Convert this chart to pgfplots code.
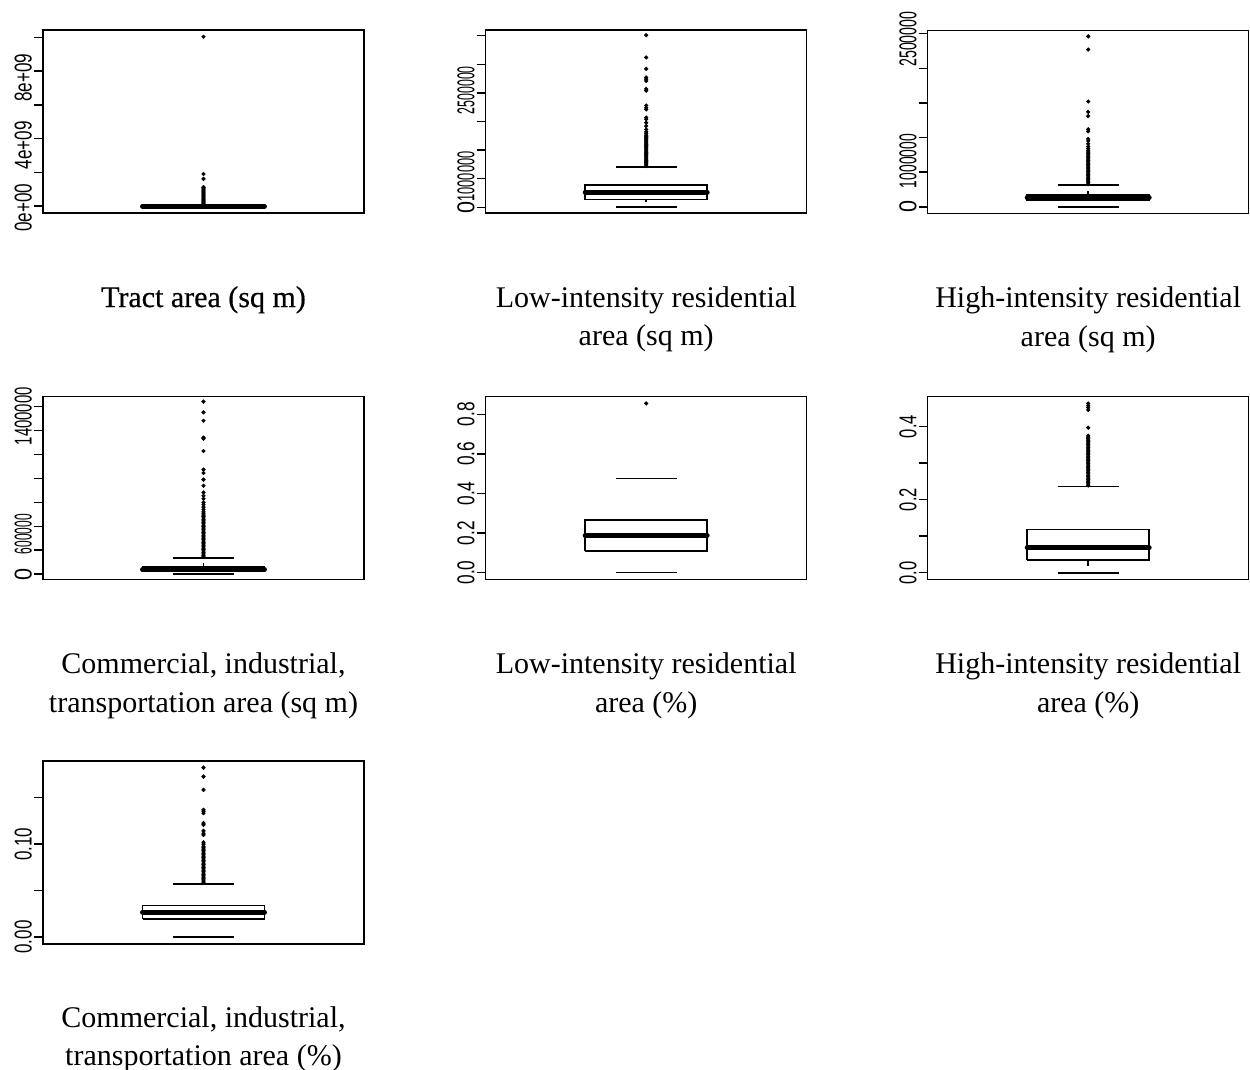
\documentclass[border=0pt]{standalone}
\usepackage{pgfplots}
\pgfplotsset{compat=1.18}
\usepackage{fontspec}
\setmainfont{Liberation Serif}
\newfontfamily\ticksf{Liberation Sans}
\newcommand{\tl}[2]{\resizebox{#1}{17pt}{#2}}
\pgfplotsset{
 panel/.style={
  anchor=north west, width=321pt, height=183pt, scale only axis,
  xmin=0, xmax=1, xtick=\empty, scaled ticks=false,
  axis line style={line width=1.5pt},
  every tick/.style={line width=1.5pt, black},
  tick align=outside, major tick length=9pt,
  ytick pos=left, yticklabels={},
  yticklabel style={rotate=90, anchor=south, inner sep=0pt, font=\ticksf\fontsize{21}{21}\selectfont},
  extra y tick style={major tick length=0pt, yticklabel shift=11pt},
  xlabel style={at={(axis description cs:0.5,0)}, anchor=north, yshift=-73pt, align=center, inner sep=0pt, font=\fontsize{30}{38.7}\selectfont},
 },
 bx/.style={black, line width=1.6pt, no markers},
 med/.style={black, line width=5pt, line cap=round, no markers},
 pts/.style={only marks, mark=*, mark size=1.9pt, black},
}
\begin{document}
\begin{tikzpicture}
\useasboundingbox (0,0) rectangle (1250pt,-1070pt);
% ---------- Panel 1: Tract area
\begin{axis}[panel, at={(43pt,-30pt)}, ymin=-0.4e9, ymax=10.44e9,
  ytick={0,2e9,4e9,6e9,8e9,10e9},
  extra y ticks={-0.1e9,3.6e9,7.6e9}, extra y tick labels={\tl{48pt}{0e+00},\tl{48pt}{4e+09},\tl{48pt}{8e+09}},
  xlabel={{\addfontfeatures{FakeBold=0.6}Tract area (sq m)}}]
\addplot[bx] coordinates {(0.5,0) (0.5,0.02e9)};
\addplot[bx] coordinates {(0.405,0) (0.595,0)};
\addplot[bx] coordinates {(0.405,0.02e9) (0.595,0.02e9)};
\addplot[bx] coordinates {(0.31,0.002e9) (0.69,0.002e9) (0.69,0.01e9) (0.31,0.01e9) (0.31,0.002e9)};
\addplot[med] coordinates {(0.31,0.005e9) (0.69,0.005e9)};
\addplot[pts] coordinates {(0.5,0.03e9) (0.5,0.08e9) (0.5,0.14e9) (0.5,0.20e9) (0.5,0.26e9) (0.5,0.32e9) (0.5,0.38e9) (0.5,0.44e9) (0.5,0.50e9) (0.5,0.56e9) (0.5,0.62e9) (0.5,0.68e9) (0.5,0.74e9) (0.5,0.80e9) (0.5,0.86e9) (0.5,0.92e9) (0.5,0.98e9) (0.5,1.04e9) (0.5,1.10e9) (0.5,1.13e9) (0.5,1.62e9) (0.5,1.91e9) (0.5,10.04e9)};
\end{axis}
% ---------- Panel 2: Low-intensity residential area (sq m)
\begin{axis}[panel, at={(485.7pt,-30pt)}, ymin=-0.1e6, ymax=3.1e6,
  ytick={0,0.5e6,1e6,1.5e6,2e6,2.5e6,3e6},
  extra y ticks={0,0.539e6,2.047e6}, extra y tick labels={\tl{12pt}{0},\tl{50pt}{1000000},\tl{48pt}{2500000}},
  xlabel={Low-intensity residential\\area (sq m)}]
\addplot[bx] coordinates {(0.5,0.135e6) (0.5,0.085e6)};
\addplot[bx] coordinates {(0.405,0) (0.595,0)};
\addplot[bx] coordinates {(0.405,0.709e6) (0.595,0.709e6)};
\addplot[bx] coordinates {(0.31,0.135e6) (0.69,0.135e6) (0.69,0.386e6) (0.31,0.386e6) (0.31,0.135e6)};
\addplot[med] coordinates {(0.31,0.263e6) (0.69,0.263e6)};
\addplot[pts] coordinates {(0.5,0.72e6) (0.5,0.74e6) (0.5,0.76e6) (0.5,0.78e6) (0.5,0.80e6) (0.5,0.82e6) (0.5,0.84e6) (0.5,0.86e6) (0.5,0.88e6) (0.5,0.90e6) (0.5,0.92e6) (0.5,0.94e6) (0.5,0.96e6) (0.5,0.98e6) (0.5,1.00e6) (0.5,1.02e6) (0.5,1.04e6) (0.5,1.06e6) (0.5,1.08e6) (0.5,1.10e6) (0.5,1.12e6) (0.5,1.14e6) (0.5,1.16e6) (0.5,1.18e6) (0.5,1.20e6) (0.5,1.22e6) (0.5,1.24e6) (0.5,1.26e6) (0.5,1.29e6) (0.5,1.32e6) (0.5,1.36e6) (0.5,1.42e6) (0.5,1.48e6) (0.5,1.54e6) (0.5,1.57e6) (0.5,1.71e6) (0.5,1.74e6) (0.5,1.78e6) (0.5,2.04e6) (0.5,2.07e6) (0.5,2.21e6) (0.5,2.24e6) (0.5,2.27e6) (0.5,2.42e6) (0.5,2.62e6) (0.5,3.01e6)};
\end{axis}
% ---------- Panel 3: High-intensity residential area (sq m)
\begin{axis}[panel, at={(927.7pt,-30.5pt)}, ymin=-0.096e6, ymax=2.545e6,
  ytick={0,0.5e6,1e6,1.5e6,2e6,2.5e6},
  extra y ticks={0,0.66e6,2.42e6}, extra y tick labels={\tl{12pt}{0},\tl{54pt}{1000000},\tl{55pt}{2500000}},
  xlabel={High-intensity residential\\area (sq m)}]
\addplot[bx] coordinates {(0.5,0.176e6) (0.5,0.23e6)};
\addplot[bx] coordinates {(0.405,0) (0.595,0)};
\addplot[bx] coordinates {(0.405,0.319e6) (0.595,0.319e6)};
\addplot[bx] coordinates {(0.31,0.09e6) (0.69,0.09e6) (0.69,0.176e6) (0.31,0.176e6) (0.31,0.09e6)};
\addplot[med] coordinates {(0.31,0.129e6) (0.69,0.129e6)};
\addplot[pts] coordinates {(0.5,0.33e6) (0.5,0.35e6) (0.5,0.37e6) (0.5,0.39e6) (0.5,0.41e6) (0.5,0.43e6) (0.5,0.45e6) (0.5,0.47e6) (0.5,0.49e6) (0.5,0.51e6) (0.5,0.53e6) (0.5,0.55e6) (0.5,0.57e6) (0.5,0.59e6) (0.5,0.61e6) (0.5,0.63e6) (0.5,0.65e6) (0.5,0.67e6) (0.5,0.69e6) (0.5,0.71e6) (0.5,0.73e6) (0.5,0.75e6) (0.5,0.77e6) (0.5,0.79e6) (0.5,0.81e6) (0.5,0.84e6) (0.5,0.87e6) (0.5,0.91e6) (0.5,0.95e6) (0.5,0.98e6) (0.5,1.09e6) (0.5,1.12e6) (0.5,1.31e6) (0.5,1.37e6) (0.5,1.52e6) (0.5,2.27e6) (0.5,2.46e6)};
\end{axis}
% ---------- Panel 4: Commercial ... (sq m)
\begin{axis}[panel, at={(43pt,-396.5pt)}, ymin=-0.045e6, ymax=1.485e6,
  ytick={0,0.2e6,0.4e6,0.6e6,0.8e6,1e6,1.2e6,1.4e6},
  extra y ticks={0,0.335e6,1.32e6}, extra y tick labels={\tl{12pt}{0},\tl{40pt}{600000},\tl{58pt}{1400000}},
  xlabel={Commercial, industrial,\\transportation area (sq m)}]
\addplot[bx] coordinates {(0.5,0.065e6) (0.5,0.09e6)};
\addplot[bx] coordinates {(0.405,0) (0.595,0)};
\addplot[bx] coordinates {(0.405,0.135e6) (0.595,0.135e6)};
\addplot[bx] coordinates {(0.31,0.023e6) (0.69,0.023e6) (0.69,0.065e6) (0.31,0.065e6) (0.31,0.023e6)};
\addplot[med] coordinates {(0.31,0.037e6) (0.69,0.037e6)};
\addplot[pts] coordinates {(0.5,0.145e6) (0.5,0.157e6) (0.5,0.169e6) (0.5,0.181e6) (0.5,0.193e6) (0.5,0.205e6) (0.5,0.217e6) (0.5,0.229e6) (0.5,0.241e6) (0.5,0.253e6) (0.5,0.265e6) (0.5,0.277e6) (0.5,0.289e6) (0.5,0.301e6) (0.5,0.313e6) (0.5,0.325e6) (0.5,0.337e6) (0.5,0.349e6) (0.5,0.361e6) (0.5,0.373e6) (0.5,0.385e6) (0.5,0.397e6) (0.5,0.409e6) (0.5,0.421e6) (0.5,0.433e6) (0.5,0.445e6) (0.5,0.457e6) (0.5,0.469e6) (0.5,0.481e6) (0.5,0.493e6) (0.5,0.505e6) (0.5,0.52e6) (0.5,0.54e6) (0.5,0.56e6) (0.5,0.58e6) (0.5,0.60e6) (0.5,0.63e6) (0.5,0.655e6) (0.5,0.683e6) (0.5,0.739e6) (0.5,0.790e6) (0.5,0.846e6) (0.5,0.874e6) (0.5,1.029e6) (0.5,1.133e6) (0.5,1.141e6) (0.5,1.282e6) (0.5,1.352e6) (0.5,1.442e6)};
\end{axis}
% ---------- Panel 5: Low-intensity residential area (%)
\begin{axis}[panel, at={(485.7pt,-396.5pt)}, ymin=-0.035, ymax=0.89,
  ytick={0,0.2,0.4,0.6,0.8},
  extra y ticks={0,0.2,0.4,0.6,0.8}, extra y tick labels={\tl{24pt}{0.0},\tl{24pt}{0.2},\tl{24pt}{0.4},\tl{24pt}{0.6},\tl{24pt}{0.8}},
  xlabel={Low-intensity residential\\area (\%)}]
\addplot[bx] coordinates {(0.405,0) (0.595,0)};
\addplot[bx] coordinates {(0.405,0.475) (0.595,0.475)};
\addplot[bx] coordinates {(0.31,0.109) (0.69,0.109) (0.69,0.266) (0.31,0.266) (0.31,0.109)};
\addplot[med] coordinates {(0.31,0.187) (0.69,0.187)};
\addplot[pts] coordinates {(0.5,0.855)};
\end{axis}
% ---------- Panel 6: High-intensity residential area (%)
\begin{axis}[panel, at={(927.7pt,-396.5pt)}, ymin=-0.0186, ymax=0.4826,
  ytick={0,0.1,0.2,0.3,0.4},
  extra y ticks={0,0.2,0.4}, extra y tick labels={\tl{23pt}{0.0},\tl{23pt}{0.2},\tl{23pt}{0.4}},
  xlabel={High-intensity residential\\area (\%)}]
\addplot[bx] coordinates {(0.5,0.0355) (0.5,0.018)};
\addplot[bx] coordinates {(0.405,0) (0.595,0)};
\addplot[bx] coordinates {(0.405,0.236) (0.595,0.236)};
\addplot[bx] coordinates {(0.31,0.0355) (0.69,0.0355) (0.69,0.118) (0.31,0.118) (0.31,0.0355)};
\addplot[med] coordinates {(0.31,0.068) (0.69,0.068)};
\addplot[pts] coordinates {(0.5,0.239) (0.5,0.243) (0.5,0.247) (0.5,0.251) (0.5,0.255) (0.5,0.259) (0.5,0.263) (0.5,0.267) (0.5,0.271) (0.5,0.275) (0.5,0.279) (0.5,0.283) (0.5,0.287) (0.5,0.291) (0.5,0.295) (0.5,0.299) (0.5,0.303) (0.5,0.307) (0.5,0.311) (0.5,0.315) (0.5,0.319) (0.5,0.323) (0.5,0.327) (0.5,0.331) (0.5,0.335) (0.5,0.339) (0.5,0.343) (0.5,0.347) (0.5,0.351) (0.5,0.355) (0.5,0.359) (0.5,0.363) (0.5,0.367) (0.5,0.371) (0.5,0.375) (0.5,0.3973) (0.5,0.4456) (0.5,0.4519) (0.5,0.4573) (0.5,0.4636)};
\end{axis}
% ---------- Panel 7: Commercial ... (%)
\begin{axis}[panel, at={(43pt,-761pt)}, ymin=-0.0075, ymax=0.1895,
  ytick={0,0.05,0.10,0.15},
  extra y ticks={0,0.10}, extra y tick labels={\tl{33pt}{0.00},\tl{33pt}{0.10}},
  xlabel style={yshift=11pt},
  xlabel={Commercial, industrial,\\transportation area (\%)}]
\addplot[bx] coordinates {(0.405,0) (0.595,0)};
\addplot[bx] coordinates {(0.405,0.0573) (0.595,0.0573)};
\addplot[bx] coordinates {(0.31,0.0197) (0.69,0.0197) (0.69,0.0341) (0.31,0.0341) (0.31,0.0197)};
\addplot[med] coordinates {(0.31,0.0269) (0.69,0.0269)};
\addplot[pts] coordinates {(0.5,0.0585) (0.5,0.0600) (0.5,0.0615) (0.5,0.0630) (0.5,0.0645) (0.5,0.0660) (0.5,0.0675) (0.5,0.0690) (0.5,0.0705) (0.5,0.0720) (0.5,0.0735) (0.5,0.0750) (0.5,0.0765) (0.5,0.0780) (0.5,0.0795) (0.5,0.0810) (0.5,0.0825) (0.5,0.0840) (0.5,0.0855) (0.5,0.0870) (0.5,0.0885) (0.5,0.0900) (0.5,0.0915) (0.5,0.0930) (0.5,0.0945) (0.5,0.0960) (0.5,0.0975) (0.5,0.1000) (0.5,0.1021) (0.5,0.1100) (0.5,0.1118) (0.5,0.1143) (0.5,0.1208) (0.5,0.1226) (0.5,0.1333) (0.5,0.1351) (0.5,0.1369) (0.5,0.1584) (0.5,0.1727) (0.5,0.1824)};
\end{axis}
\end{tikzpicture}
\end{document}
